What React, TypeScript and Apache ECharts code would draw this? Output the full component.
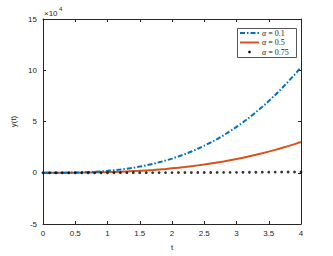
import React, { useEffect, useRef } from "react";
import * as echarts from "echarts";

const tValues = [
  0, 0.1, 0.2, 0.3, 0.4, 0.5, 0.6, 0.7, 0.8, 0.9, 1.0, 1.1, 1.2, 1.3, 1.4, 1.5, 1.6, 1.7, 1.8, 1.9, 2.0,
  2.1, 2.2, 2.3, 2.4, 2.5, 2.6, 2.7, 2.8, 2.9, 3.0, 3.1, 3.2, 3.3, 3.4, 3.5, 3.6, 3.7, 3.8, 3.9, 4.0,
];
// values in units of 1e4
const alpha01 = [
  0, 0, 0.002, 0.006, 0.013, 0.025, 0.04, 0.066, 0.097, 0.136, 0.185, 0.245, 0.31, 0.4, 0.49, 0.6, 0.72,
  0.86, 1.02, 1.19, 1.38, 1.59, 1.82, 2.07, 2.34, 2.64, 2.95, 3.29, 3.66, 4.05, 4.47, 4.92, 5.39, 5.9,
  6.43, 6.99, 7.59, 8.22, 8.88, 9.57, 10.3,
];
const alpha05 = [
  0, 0, 0.001, 0.002, 0.005, 0.009, 0.015, 0.023, 0.033, 0.046, 0.062, 0.081, 0.1, 0.13, 0.16, 0.19, 0.23,
  0.27, 0.32, 0.37, 0.43, 0.49, 0.56, 0.64, 0.72, 0.8, 0.9, 1.0, 1.1, 1.22, 1.34, 1.47, 1.61, 1.75, 1.9,
  2.06, 2.23, 2.41, 2.6, 2.79, 3.0,
];
const alpha075 = [
  0, 0, 0, 0, 0, 0, 0.001, 0.001, 0.001, 0.002, 0.003, 0.003, 0.004, 0.005, 0.006, 0.007, 0.008, 0.01,
  0.011, 0.013, 0.014, 0.016, 0.018, 0.02, 0.022, 0.025, 0.027, 0.03, 0.033, 0.036, 0.039, 0.042, 0.046,
  0.049, 0.053, 0.057, 0.061, 0.066, 0.07, 0.075, 0.08,
];
const legendLabels = ["0.1", "0.5", "0.75"];

const AX = "#262626";
const FONT = "'Liberation Sans', Arial, sans-serif";
const SERIF = "'Liberation Serif', 'DejaVu Serif', serif";

export default function App() {
  const ref = useRef<HTMLDivElement>(null);
  useEffect(() => {
    if (!ref.current) return;
    const chart = echarts.init(ref.current, null, { renderer: "svg" });
    const pairs = (vals: number[]) => tValues.map((t, i) => [t, vals[i]]);
    const axisCommon = {
      type: "value" as const,
      axisLine: { show: true, onZero: false, lineStyle: { color: AX, width: 1 } },
      axisTick: { show: true, inside: true, length: 3, lineStyle: { color: AX } },
      splitLine: { show: false },
    };
    chart.setOption({
      animation: false,
      backgroundColor: "#ffffff",
      grid: { left: 43, right: 32, top: 19, bottom: 29, containLabel: false },
      xAxis: [
        {
          ...axisCommon,
          min: 0,
          max: 4,
          interval: 0.5,
          position: "bottom",
          name: "t",
          nameLocation: "middle",
          nameGap: 19,
          nameTextStyle: { color: AX, fontSize: 8, fontFamily: FONT },
          axisLabel: { color: AX, fontSize: 8, fontFamily: FONT, margin: 5 },
        },
        {
          ...axisCommon,
          min: 0,
          max: 4,
          interval: 0.5,
          position: "top",
          axisLabel: { show: false },
        },
      ],
      yAxis: [
        {
          ...axisCommon,
          min: -5,
          max: 15,
          interval: 5,
          position: "left",
          name: "y(t)",
          nameLocation: "middle",
          nameGap: 16,
          nameTextStyle: { color: AX, fontSize: 8, fontFamily: FONT },
          axisLabel: { color: AX, fontSize: 8, fontFamily: FONT, margin: 6 },
        },
        {
          ...axisCommon,
          min: -5,
          max: 15,
          interval: 5,
          position: "right",
          axisLabel: { show: false },
        },
      ],
      series: [
        {
          type: "line",
          data: pairs(alpha01),
          showSymbol: false,
          lineStyle: { color: "#0072BD", width: 2, type: [5, 2, 1.5, 2] },
          z: 3,
        },
        {
          type: "line",
          data: pairs(alpha05),
          showSymbol: false,
          lineStyle: { color: "#D95319", width: 2 },
          z: 2,
        },
        {
          type: "scatter",
          data: pairs(alpha075),
          symbol: "circle",
          symbolSize: 2.8,
          itemStyle: { color: "#000000" },
          z: 4,
        },
      ],
      graphic: [
        {
          type: "text",
          left: 44,
          top: 9,
          style: { text: "×10", fill: AX, font: `8px ${FONT}` },
        },
        {
          type: "text",
          left: 59,
          top: 6,
          style: { text: "4", fill: AX, font: `6px ${FONT}` },
        },
        {
          type: "rect",
          shape: { x: 237.5, y: 28.5, width: 59, height: 29 },
          style: { fill: "#ffffff", stroke: "#555555", lineWidth: 1 },
          z: 10,
        },
        {
          type: "line",
          shape: { x1: 240, y1: 33, x2: 259, y2: 33 },
          style: { stroke: "#0072BD", lineWidth: 2, lineDash: [5, 2, 1.5, 2] },
          z: 11,
        },
        {
          type: "line",
          shape: { x1: 240, y1: 42.5, x2: 259, y2: 42.5 },
          style: { stroke: "#D95319", lineWidth: 2 },
          z: 11,
        },
        {
          type: "circle",
          shape: { cx: 249.5, cy: 52, r: 1.3 },
          style: { fill: "#000000" },
          z: 11,
        },
        ...legendLabels.map((lab, i) => ({
          type: "text",
          x: 262,
          y: 33 + i * 9.5,
          z: 11,
          style: {
            text: `{a|α} = ${lab}`,
            fill: AX,
            font: `8px ${SERIF}`,
            verticalAlign: "middle",
            rich: {
              a: { fontStyle: "italic", fontSize: 8, fontFamily: SERIF, fill: AX },
            },
          },
        })),
      ],
    });
    return () => chart.dispose();
  }, []);
  return (
    <div
      ref={ref}
      style={{ position: "absolute", left: 0, top: 0, width: 333, height: 256 }}
    />
  );
}
